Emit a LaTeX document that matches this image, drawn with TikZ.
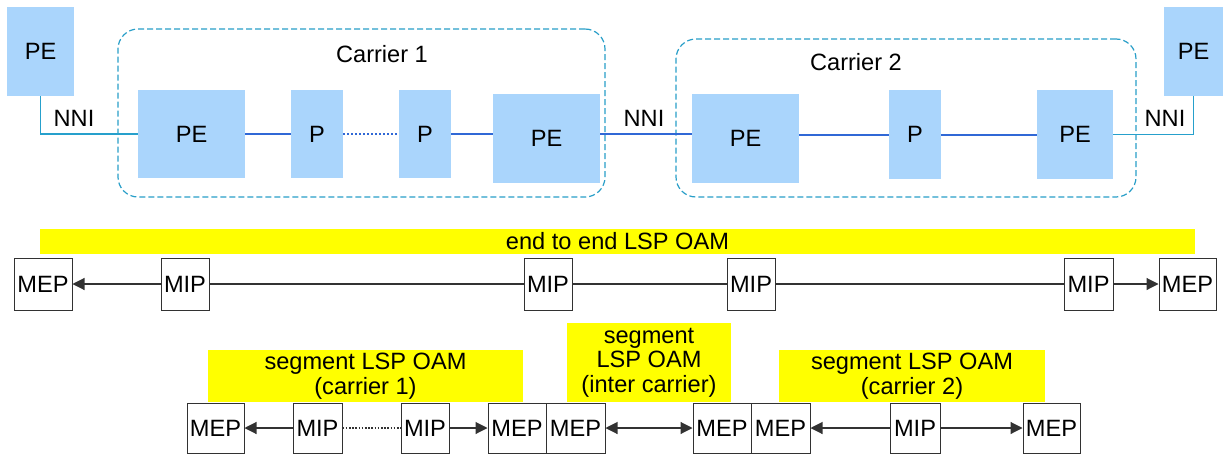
\documentclass[tikz,border=0pt]{standalone}
\usepackage{fontspec}
\setmainfont{Liberation Sans}
\usetikzlibrary{arrows.meta}
\definecolor{peblue}{RGB}{170,213,252}
\definecolor{linkblue}{RGB}{48,104,214}
\definecolor{nnicyan}{RGB}{38,160,204}
\definecolor{dashcyan}{RGB}{40,158,200}
\definecolor{yel}{RGB}{255,255,0}
\definecolor{bord}{RGB}{50,50,50}
\tikzset{
  pebox/.style={fill=peblue, draw=none, inner sep=0pt},
  carrierbox/.style={draw=dashcyan, line width=1.2pt, dash pattern=on 6pt off 3pt, rounded corners=20pt},
  link/.style={draw=linkblue, line width=2pt},
  dotlink/.style={draw=linkblue, line width=2pt, dash pattern=on 2pt off 2pt},
  nni/.style={draw=nnicyan, line width=1.3pt},
  oambox/.style={fill=yel, draw=none, inner sep=0pt, align=center},
  mbox/.style={draw=bord, fill=white, line width=1pt, inner sep=0pt, minimum height=#1},
  conn/.style={draw=bord, line width=1.1pt},
  arr/.style={conn, -{Triangle[length=12pt,width=12pt]}},
  darr/.style={conn, {Triangle[length=12pt,width=12pt]}-{Triangle[length=12pt,width=12pt]}},
  dotconn/.style={conn, dash pattern=on 1.6pt off 1.6pt},
  lbl/.style={inner sep=0pt}
}
\begin{document}
\begin{tikzpicture}[x=1pt, y=-1pt, font=\fontsize{23.6}{24.5}\selectfont]
\useasboundingbox (0,0) rectangle (1223,455);
% carrier boxes
\node[carrierbox, minimum width=487pt, minimum height=168pt, inner sep=0pt] (c1) at (361.5,113) {};
\node[carrierbox, minimum width=460pt, minimum height=158pt, inner sep=0pt] (c2) at (906,118) {};
\node[lbl] (c1t) at (382,54) {Carrier 1};
\node[lbl] (c2t) at (856,62) {Carrier 2};
% PE / P nodes
\node[pebox, minimum width=67pt, minimum height=89pt] (pe0) at (40.5,51.5) {PE};
\node[pebox, minimum width=107pt, minimum height=88pt] (pe1) at (191.5,134) {PE};
\node[pebox, minimum width=52pt, minimum height=88pt] (p1) at (317,134) {P};
\node[pebox, minimum width=52pt, minimum height=88pt] (p2) at (425,134) {P};
\node[pebox, minimum width=107pt, minimum height=89pt] (pe2) at (546.5,138.5) {PE};
\node[pebox, minimum width=107pt, minimum height=89pt] (pe3) at (745.5,138.5) {PE};
\node[pebox, minimum width=52pt, minimum height=89pt] (p3) at (915,134.5) {P};
\node[pebox, minimum width=76pt, minimum height=89pt] (pe4) at (1075,134.5) {PE};
\node[pebox, minimum width=59pt, minimum height=89pt] (pe5) at (1193.5,51.5) {PE};
% links
\draw[nni] (pe0.south) |- (pe1.west);
\draw[link] (pe1.east) -- (p1.west);
\draw[dotlink] (p1.east) -- (p2.west);
\draw[link] (p2.east) -- (p2.east -| pe2.west);
\draw[link] (p2.east -| pe2.east) -- (p2.east -| pe3.west);
\draw[link] (p3.west -| pe3.east) -- (p3.west);
\draw[link] (p3.east) -- (pe4.west);
\draw[nni] (pe5.south) |- (pe4.east);
\node[lbl] (n1) at (74,118) {NNI};
\node[lbl] (n2) at (644,118) {NNI};
\node[lbl] (n3) at (1165,118) {NNI};
% end to end
\node[oambox, minimum width=1155pt, minimum height=25pt] (e2e) at (617.5,241.5) {end to end LSP OAM};
\node[mbox=52pt, minimum width=58pt] (mepA) at (43,284) {MEP};
\node[mbox=52pt, minimum width=48pt] (mipA) at (185,284) {MIP};
\node[mbox=52pt, minimum width=48pt] (mipB) at (548,284) {MIP};
\node[mbox=52pt, minimum width=48pt] (mipC) at (751,284) {MIP};
\node[mbox=52pt, minimum width=49pt] (mipD) at (1088.5,284) {MIP};
\node[mbox=52pt, minimum width=57pt] (mepB) at (1187.5,284) {MEP};
\draw[arr] (mipA) -- (mepA);
\draw[conn] (mipA) -- (mipB);
\draw[conn] (mipB) -- (mipC);
\draw[conn] (mipC) -- (mipD);
\draw[arr] (mipD) -- (mepB);
% segments
\node[oambox, minimum width=315pt, minimum height=52pt] (s1) at (365.5,376) {segment LSP OAM\\(carrier 1)};
\node[oambox, minimum width=164pt, minimum height=79pt] (s2) at (649,362.5) {segment\\LSP OAM\\(inter carrier)};
\node[oambox, minimum width=266pt, minimum height=52pt] (s3) at (912,376) {segment LSP OAM\\(carrier 2)};
\node[mbox=50pt, minimum width=57pt] (m1) at (215.5,428) {MEP};
\node[mbox=50pt, minimum width=49pt] (i1) at (317.5,428) {MIP};
\node[mbox=50pt, minimum width=48pt] (i2) at (425,428) {MIP};
\node[mbox=50pt, minimum width=58pt] (m2) at (517,428) {MEP};
\node[mbox=50pt, minimum width=59pt] (m3) at (575.5,428) {MEP};
\node[mbox=50pt, minimum width=58pt] (m4) at (722,428) {MEP};
\node[mbox=50pt, minimum width=59pt] (m5) at (780.5,428) {MEP};
\node[mbox=50pt, minimum width=50pt] (i3) at (915,428) {MIP};
\node[mbox=50pt, minimum width=57pt] (m6) at (1051.5,428) {MEP};
\draw[arr] (i1) -- (m1);
\draw[dotconn] (i1) -- (i2);
\draw[arr] (i2) -- (m2);
\draw[darr] (m3) -- (m4);
\draw[arr] (i3) -- (m5);
\draw[arr] (i3) -- (m6);
\end{tikzpicture}
\end{document}
